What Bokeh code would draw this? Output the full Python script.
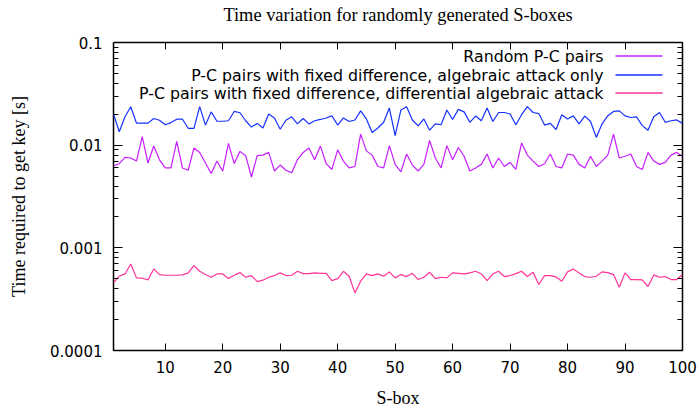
from bokeh.plotting import figure
from bokeh.models import (FixedTicker, LogAxis, LinearAxis, Label, LinearScale, Title,
                          CustomJSTickFormatter, Range1d)
from bokeh.embed import file_html
from bokeh.resources import INLINE

sbox = list(range(1, 101))

random_pc = [
    0.0063, 0.0066, 0.0076, 0.0075, 0.0070, 0.0121, 0.0067, 0.0098, 0.0072, 0.0060,
    0.0060, 0.0109, 0.0060, 0.0057, 0.0094, 0.0085, 0.0067, 0.0053, 0.0070, 0.0056,
    0.0104, 0.0066, 0.0087, 0.0079, 0.0049, 0.0079, 0.0080, 0.0085, 0.0056, 0.0064,
    0.0057, 0.0054, 0.0072, 0.0085, 0.0094, 0.0072, 0.0098, 0.0066, 0.0058, 0.0090,
    0.0070, 0.0060, 0.0062, 0.0128, 0.0088, 0.0080, 0.0062, 0.0060, 0.0099, 0.0065,
    0.0055, 0.0082, 0.0064, 0.0056, 0.0065, 0.0111, 0.0075, 0.0060, 0.0099, 0.0072,
    0.0095, 0.0078, 0.0056, 0.0060, 0.0065, 0.0082, 0.0060, 0.0075, 0.0062, 0.0068,
    0.0058, 0.0105, 0.0080, 0.0070, 0.0062, 0.0066, 0.0082, 0.0062, 0.0060, 0.0082,
    0.0080, 0.0065, 0.0060, 0.0078, 0.0062, 0.0070, 0.0080, 0.0128, 0.0075, 0.0078,
    0.0082, 0.0062, 0.0058, 0.0085, 0.0070, 0.0065, 0.0068, 0.0080, 0.0085, 0.0078,
]

fixed_algebraic = [
    0.0201, 0.0135, 0.0189, 0.0237, 0.0164, 0.0164, 0.0164, 0.0182, 0.0175, 0.0158,
    0.0166, 0.0179, 0.0179, 0.0146, 0.0146, 0.0237, 0.0157, 0.0211, 0.0171, 0.0171,
    0.0173, 0.0213, 0.0207, 0.0173, 0.0150, 0.0163, 0.0147, 0.0201, 0.0184, 0.0143,
    0.0175, 0.0189, 0.0161, 0.0182, 0.0161, 0.0173, 0.0178, 0.0184, 0.0193, 0.0157,
    0.0184, 0.0170, 0.0176, 0.0216, 0.0180, 0.0133, 0.0147, 0.0167, 0.0230, 0.0124,
    0.0220, 0.0237, 0.0176, 0.0154, 0.0180, 0.0140, 0.0161, 0.0158, 0.0220, 0.0178,
    0.0223, 0.0211, 0.0167, 0.0192, 0.0173, 0.0230, 0.0170, 0.0208, 0.0208, 0.0201,
    0.0158, 0.0198, 0.0237, 0.0208, 0.0203, 0.0157, 0.0163, 0.0142, 0.0198, 0.0180,
    0.0193, 0.0161, 0.0192, 0.0170, 0.0119, 0.0161, 0.0193, 0.0213, 0.0216, 0.0193,
    0.0186, 0.0189, 0.0155, 0.0140, 0.0189, 0.0208, 0.0167, 0.0173, 0.0176, 0.0163,
]

fixed_differential = [
    0.000456, 0.000529, 0.000557, 0.000697, 0.000510, 0.000506, 0.000487, 0.000623, 0.000549, 0.000541,
    0.000541, 0.000541, 0.000545, 0.000570, 0.000671, 0.000591, 0.000549, 0.000517, 0.000557, 0.000557,
    0.000502, 0.000541, 0.000574, 0.000517, 0.000537, 0.000469, 0.000484, 0.000517, 0.000537, 0.000570,
    0.000537, 0.000541, 0.000591, 0.000561, 0.000561, 0.000570, 0.000565, 0.000565, 0.000480, 0.000502,
    0.000591, 0.000529, 0.000364, 0.000473, 0.000557, 0.000537, 0.000557, 0.000529, 0.000583, 0.000510,
    0.000549, 0.000525, 0.000565, 0.000491, 0.000517, 0.000578, 0.000502, 0.000517, 0.000510, 0.000570,
    0.000565, 0.000557, 0.000570, 0.000591, 0.000557, 0.000480, 0.000557, 0.000591, 0.000525, 0.000537,
    0.000561, 0.000591, 0.000525, 0.000578, 0.000439, 0.000537, 0.000537, 0.000521, 0.000473, 0.000583,
    0.000623, 0.000570, 0.000525, 0.000517, 0.000529, 0.000583, 0.000574, 0.000549, 0.000414, 0.000570,
    0.000491, 0.000491, 0.000487, 0.000420, 0.000545, 0.000517, 0.000525, 0.000491, 0.000491, 0.000549,
]

series_names = [
    "Random P-C pairs",
    "P-C pairs with fixed difference, algebraic attack only",
    "P-C pairs with fixed difference, differential algebraic attack",
]
series_colors = ["#c81eff", "#1530ff", "#ff3399"]

y_ticks = [0.0001, 0.001, 0.01, 0.1]
y_minor = [m * d for d in [0.0001, 0.001, 0.01] for m in range(2, 10)]
x_ticks = [10, 20, 30, 40, 50, 60, 70, 80, 90, 100]

p = figure(width=699, height=410, x_range=Range1d(1, 100), y_range=Range1d(0.0001, 0.1),
           y_axis_type="log", output_backend="svg", toolbar_location=None, title=None,
           min_border_left=113, min_border_right=17, min_border_top=42, min_border_bottom=60)
p.xgrid.visible = False
p.ygrid.visible = False
p.outline_line_color = "black"
p.outline_line_width = 1.5
p.background_fill_color = "white"
p.border_fill_color = "white"

for ys, c in zip([random_pc, fixed_algebraic, fixed_differential], series_colors):
    p.line(sbox, ys, line_color=c, line_width=1.2)

def style_axis(ax, labels=True):
    ax.axis_line_color = None
    ax.major_tick_line_color = "black"
    ax.minor_tick_line_color = "black"
    ax.major_tick_out = 0
    ax.minor_tick_out = 0
    ax.major_label_text_color = "black"
    ax.major_label_text_font = "DejaVu Sans"
    ax.major_label_text_font_size = "15px" if labels else "1px"
    if not labels:
        ax.formatter = CustomJSTickFormatter(code="return '';")
        ax.major_label_standoff = 0

xa = p.xaxis[0]
xa.ticker = FixedTicker(ticks=x_ticks, minor_ticks=[])
style_axis(xa)
xa.major_tick_in = 7
xa.major_label_standoff = 10
xa.axis_label = "S-box"
xa.axis_label_text_font = "Liberation Serif"
xa.axis_label_text_font_size = "18px"
xa.axis_label_text_font_style = "normal"
xa.axis_label_text_color = "black"
xa.axis_label_standoff = 12

ya = p.yaxis[0]
ya.ticker = FixedTicker(ticks=y_ticks, minor_ticks=y_minor)
ya.formatter = CustomJSTickFormatter(code="return tick.toPrecision(1);")
style_axis(ya)
ya.major_tick_in = 9
ya.minor_tick_in = 5
ya.major_label_standoff = 11
ya.axis_label = "Time required to get key [s]"
ya.axis_label_text_font = "Liberation Serif"
ya.axis_label_text_font_size = "18px"
ya.axis_label_text_font_style = "normal"
ya.axis_label_text_color = "black"
ya.axis_label_standoff = 18

top_ax = LinearAxis(ticker=FixedTicker(ticks=x_ticks, minor_ticks=[]))
style_axis(top_ax, labels=False)
top_ax.major_tick_in = 7
p.add_layout(top_ax, "above")

# invisible spacer (white outward tick at the frame's left end) between the top ticks and the title
spacer = LinearAxis(ticker=FixedTicker(ticks=[1], minor_ticks=[]))
style_axis(spacer, labels=False)
spacer.major_tick_in = 0
spacer.major_tick_out = 14
spacer.major_tick_line_color = "white"
p.add_layout(spacer, "above")

title = Title(text="Time variation for randomly generated S-boxes", align="center",
              vertical_align="top", standoff=4, text_font="Liberation Serif",
              text_font_size="18.4px", text_font_style="normal", text_color="black")
p.add_layout(title, "above")

right_ax = LogAxis(ticker=FixedTicker(ticks=y_ticks, minor_ticks=y_minor))
style_axis(right_ax, labels=False)
right_ax.major_tick_in = 9
right_ax.minor_tick_in = 5
p.add_layout(right_ax, "right")

# key, gnuplot style: text right-aligned, sample line on the right (pixel space of the frame)
p.extra_x_ranges = {"key": Range1d(0, 569)}
p.extra_y_ranges = {"key": Range1d(0, 308)}
p.extra_x_scales = {"key": LinearScale()}
p.extra_y_scales = {"key": LinearScale()}
key_rows = [294, 275, 257]
for name, c, ky in zip(series_names, series_colors, key_rows):
    p.add_layout(Label(x=490, y=ky, x_units="screen", y_units="screen", text=name,
                       text_align="right", text_baseline="middle",
                       text_font="DejaVu Sans", text_font_size="15.8px", text_color="black"))
    p.line([502, 549], [ky + 0.5, ky + 0.5], x_range_name="key", y_range_name="key",
           line_color=c, line_width=1.5)

open("out.html", "w").write(file_html(p, INLINE))
